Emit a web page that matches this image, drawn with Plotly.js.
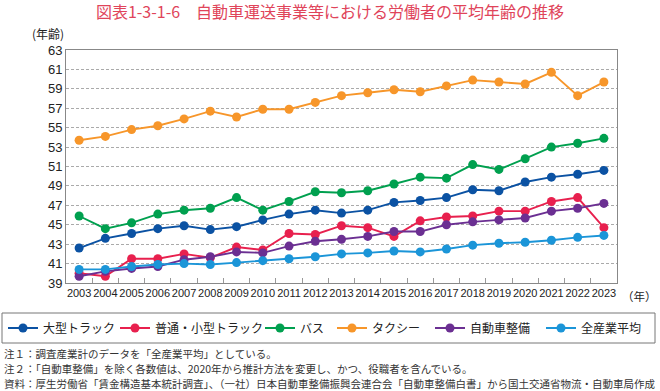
<!DOCTYPE html>
<html>
<head>
<meta charset="utf-8">
<script src="https://cdn.plot.ly/plotly-3.0.1.min.js"></script>
<style>
html,body{margin:0;padding:0;background:#fff;}
#chart{width:660px;height:391px;}
</style>
</head>
<body>
<div id="chart"></div>
<script>
const years = ["2003","2004","2005","2006","2007","2008","2009","2010","2011","2012","2013","2014","2015","2016","2017","2018","2019","2020","2021","2022","2023"];
const seriesNames = ["大型トラック","普通・小型トラック","バス","タクシー","自動車整備","全産業平均"];
const largeTruck = [42.6,43.6,44.1,44.6,44.9,44.5,44.8,45.5,46.1,46.5,46.2,46.5,47.3,47.5,47.8,48.6,48.5,49.4,49.9,50.2,50.6];
const smallTruck = [40.0,39.7,41.5,41.5,42.0,41.6,42.7,42.4,44.1,44.0,44.9,44.7,43.8,45.4,45.8,45.9,46.4,46.4,47.4,47.8,44.7];
const bus        = [45.9,44.6,45.2,46.1,46.5,46.7,47.8,46.5,47.4,48.4,48.3,48.5,49.2,49.9,49.8,51.2,50.7,51.8,53.0,53.4,53.9];
const taxi       = [53.7,54.1,54.8,55.2,55.9,56.7,56.1,56.9,56.9,57.6,58.3,58.6,58.9,58.7,59.3,59.9,59.7,59.5,60.7,58.3,59.7];
const maintenance= [39.7,40.2,40.5,40.7,41.4,41.7,42.2,42.1,42.8,43.3,43.5,43.8,44.3,44.3,45.0,45.3,45.5,45.7,46.4,46.7,47.2];
const allIndustry= [40.4,40.4,40.7,40.9,41.0,40.9,41.1,41.3,41.5,41.7,42.0,42.1,42.3,42.2,42.5,42.9,43.1,43.2,43.4,43.7,43.9];
const colors = ["#0b52a3","#e8204e","#00a04f","#f7962a","#6b2f92","#1b95d8"];
const yTicks = [39,41,43,45,47,49,51,53,55,57,59,61,63];
const titleText = "図表1-3-1-6　自動車運送事業等における労働者の平均年齢の推移";
const notes = [
  "注１：調査産業計のデータを「全産業平均」としている。",
  "注２：「自動車整備」を除く各数値は、2020年から推計方法を変更し、かつ、役職者を含んでいる。",
  "資料：厚生労働省「賃金構造基本統計調査」、（一社）日本自動車整備振興会連合会「自動車整備白書」から国土交通省物流・自動車局作成"
];

const jp = "Noto Sans CJK JP, sans-serif";
const legendIds = ["legend","legend2","legend3","legend4","legend5","legend6"];
const allSeries = [largeTruck, smallTruck, bus, taxi, maintenance, allIndustry];
const traces = allSeries.map((vals, i) => ({
  type: "scatter",
  mode: "lines+markers",
  name: seriesNames[i],
  legend: legendIds[i],
  x: years,
  y: vals,
  line: {color: colors[i], width: 1.9},
  marker: {color: colors[i], size: 9},
  cliponaxis: false
}));

// plot area: left 66, right 617, top 50, bottom 283 (px)
const PL = 66, PW = 551, PT = 50, PH = 233;
const px2x = px => (px - PL) / PW;
const py2y = py => (PT + PH - py) / PH;

// legend entry left edges (px) to match the reference spacing
const legendLeft = [3, 115, 260, 332, 430, 541];

const layout = {
  width: 660, height: 391,
  margin: {l: 66, r: 43, t: 50, b: 108, autoexpand: false},
  paper_bgcolor: "#fff", plot_bgcolor: "#fff",
  showlegend: true,
  title: {text: titleText, x: 0.5, xanchor: "center", yref: "container", y: 1 - 12 / 391, yanchor: "middle",
          font: {family: jp, size: 16, color: "#e0445a"}},
  xaxis: {
    type: "category",
    range: [-0.5, 20.5],
    tickson: "boundaries",
    ticks: "inside", ticklen: 5, tickcolor: "#999",
    tickangle: 0,
    showgrid: false,
    showline: true, linecolor: "#888", linewidth: 1, mirror: true,
    tickfont: {family: "Liberation Sans Narrow, Liberation Sans, sans-serif", size: 11, color: "#222"},
    zeroline: false, fixedrange: true
  },
  yaxis: {
    range: [39, 63],
    tickvals: yTicks,
    ticktext: yTicks.map(String),
    ticks: "",
    showgrid: true, gridcolor: "#aaa", griddash: "3px,2px", gridwidth: 1,
    showline: true, linecolor: "#888", linewidth: 1, mirror: true,
    tickfont: {family: "Liberation Sans, Arial, sans-serif", size: 13, color: "#222"},
    zeroline: false, fixedrange: true
  },
  shapes: [
    {type: "rect", xref: "paper", yref: "paper",
     x0: px2x(2), x1: px2x(655), y0: py2y(313), y1: py2y(343),
     line: {color: "#777", width: 1}, fillcolor: "rgba(0,0,0,0)", layer: "below"}
  ],
  annotations: [
    {text: "(年齢)", xref: "paper", yref: "paper", x: px2x(30), y: py2y(33),
     xanchor: "left", yanchor: "middle", showarrow: false,
     font: {family: jp, size: 12, color: "#222"}},
    {text: "（年）", xref: "paper", yref: "paper", x: px2x(620), y: py2y(296),
     xanchor: "left", yanchor: "middle", showarrow: false,
     font: {family: jp, size: 11.5, color: "#222"}}
  ].concat(notes.map((t, i) => ({
    text: t, xref: "paper", yref: "paper", x: px2x(2), y: py2y(353 + 15 * i),
    xanchor: "left", yanchor: "middle", showarrow: false,
    font: {family: jp, size: 10.5, color: "#333"}
  })))
};

legendIds.forEach((id, i) => {
  layout[id] = {
    orientation: "h",
    xref: "paper", yref: "paper",
    x: px2x(legendLeft[i]), xanchor: "left",
    y: py2y(328), yanchor: "middle",
    bgcolor: "rgba(0,0,0,0)", borderwidth: 0,
    font: {family: jp, size: 12, color: "#222"},
    itemwidth: 30
  };
});

Plotly.newPlot("chart", traces, layout, {displayModeBar: false, staticPlot: true});
</script>
</body>
</html>
